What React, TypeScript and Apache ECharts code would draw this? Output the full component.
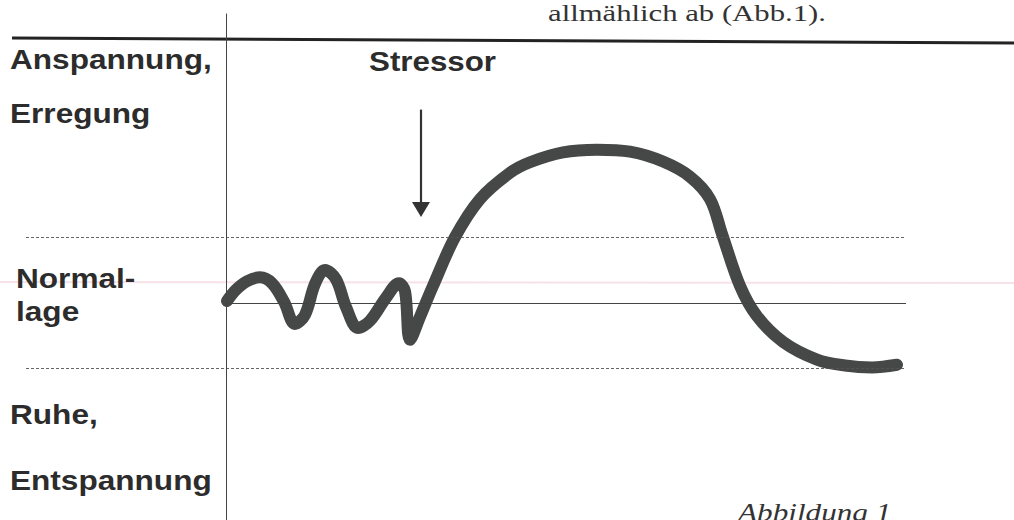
import React, { useEffect, useRef } from "react";
import * as echarts from "echarts";

// ---- data ----
// time (arbitrary units) and arousal level (0 = Normallage, +1 / -1 = band limits)
const curveTime = [0.1, 1.0, 2.1, 3.4, 4.6, 5.8, 6.9, 7.9, 8.9, 9.9, 11.0, 12.0, 13.2, 14.4, 16.0, 17.3, 17.9, 18.4, 19.4, 20.7, 22.9, 25.4, 28.4, 30.4, 33.7, 37.1, 40.4, 43.7, 46.4, 48.4, 49.6, 51.4, 53.1, 55.7, 59.1, 61.9, 64.6, 67.1];
const curveLevel = [0.03, 0.2, 0.33, 0.39, 0.3, 0.02, -0.32, -0.18, 0.29, 0.5, 0.36, -0.06, -0.38, -0.27, 0.08, 0.3, 0.18, -0.56, -0.21, 0.26, 1.0, 1.58, 1.98, 2.14, 2.29, 2.33, 2.3, 2.15, 1.92, 1.58, 1.05, 0.26, -0.2, -0.59, -0.86, -0.95, -0.98, -0.94];
const bandLevels = [1, -1]; // dashed limits
const normalLevel = 0;
const stressorTime = 19.5;
const stressorArrow = [2.94, 1.42]; // from / to level
const timeRange = [-20, 68];
const levelRange = [-3.3, 4.4];
const leftLabels = ["Anspannung,", "Erregung", "Normal-", "lage", "Ruhe,", "Entspannung"];
const stressorLabel = "Stressor";
const headerText = "allmählich ab (Abb.1).";
const captionText = "Abbildung 1";

export default function App() {
  const ref = useRef<HTMLDivElement>(null);
  useEffect(() => {
    if (!ref.current) return;
    const chart = echarts.init(ref.current, undefined, { renderer: "svg" });
    const UNIT = 66;
    const ZERO_Y = 304;
    const gridTop = ZERO_Y - levelRange[1] * UNIT;
    const gridHeight = (levelRange[1] - levelRange[0]) * UNIT;
    const labelY = [59, 113, 278, 311, 414, 480];
    const labelX = [10, 10, 16, 16, 10, 10];
    const sans = "'Liberation Sans', Arial, sans-serif";
    const serif = "'Liberation Serif', 'Times New Roman', serif";
    const ink = "#2c2c2c";

    const graphics: any[] = [
      { type: "line", shape: { x1: 0, y1: 282, x2: 1014, y2: 283 }, style: { stroke: "rgba(238,190,208,0.45)", lineWidth: 2 }, silent: true, z: 0 },
      { type: "line", shape: { x1: 12, y1: 38, x2: 1014, y2: 43 }, style: { stroke: "#232323", lineWidth: 3 }, silent: true },
      { type: "text", x: 548, y: 13, scaleX: 1.28, style: { text: headerText, font: `24px ${serif}`, fill: "#333", align: "left", verticalAlign: "middle" } },
      { type: "text", x: 738, y: 499, scaleX: 1.2, style: { text: captionText, font: `italic 26px ${serif}`, fill: "#333", align: "left", verticalAlign: "top" } },
      { type: "text", x: 369, y: 62, scaleX: 1.16, style: { text: stressorLabel, font: `bold 27px ${sans}`, fill: ink, align: "left", verticalAlign: "middle" } },
    ];
    leftLabels.forEach((t, i) => {
      graphics.push({ type: "text", x: labelX[i], y: labelY[i], scaleX: 1.17, style: { text: t, font: `bold 27px ${sans}`, fill: ink, align: "left", verticalAlign: "middle" } });
    });

    chart.setOption({
      animation: false,
      backgroundColor: "#ffffff",
      grid: { left: 26, top: gridTop, width: 880, height: gridHeight, containLabel: false },
      xAxis: { type: "value", min: timeRange[0], max: timeRange[1], show: false },
      yAxis: { type: "value", min: levelRange[0], max: levelRange[1], show: false },
      graphic: graphics,
      series: [
        {
          type: "line",
          data: [],
          silent: true,
          markLine: {
            silent: true,
            symbol: "none",
            label: { show: false },
            emphasis: { disabled: true },
            data: [
              ...bandLevels.map((v) => ({ yAxis: v, lineStyle: { type: [3, 2], color: "#555", width: 0.9 } })),
              [
                { coord: [0, normalLevel], lineStyle: { type: "solid", color: "#444", width: 1 } },
                { coord: [timeRange[1], normalLevel] },
              ],
              [
                { coord: [0, levelRange[1]], lineStyle: { type: "solid", color: "#444", width: 1 } },
                { coord: [0, levelRange[0]] },
              ],
            ],
          },
        },
        {
          type: "line",
          data: [],
          silent: true,
          markLine: {
            silent: true,
            label: { show: false },
            emphasis: { disabled: true },
            data: [
              [
                { coord: [stressorTime, stressorArrow[0]], symbol: "none", lineStyle: { type: "solid", color: "#333", width: 2.2 } },
                { coord: [stressorTime, stressorArrow[1]], symbol: "triangle", symbolSize: [18, 15], itemStyle: { color: "#333" } },
              ],
            ],
          },
        },
        {
          type: "line",
          data: curveTime.map((t, i) => [t, curveLevel[i]]),
          smooth: 0.35,
          symbol: "none",
          silent: true,
          lineStyle: { width: 12, color: "#464848", cap: "round", join: "round" },
        },
      ],
    });
    return () => chart.dispose();
  }, []);
  return (
    <div
      ref={ref}
      style={{ position: "absolute", left: 0, top: 0, width: 1014, height: 520, background: "#fff" }}
    />
  );
}
